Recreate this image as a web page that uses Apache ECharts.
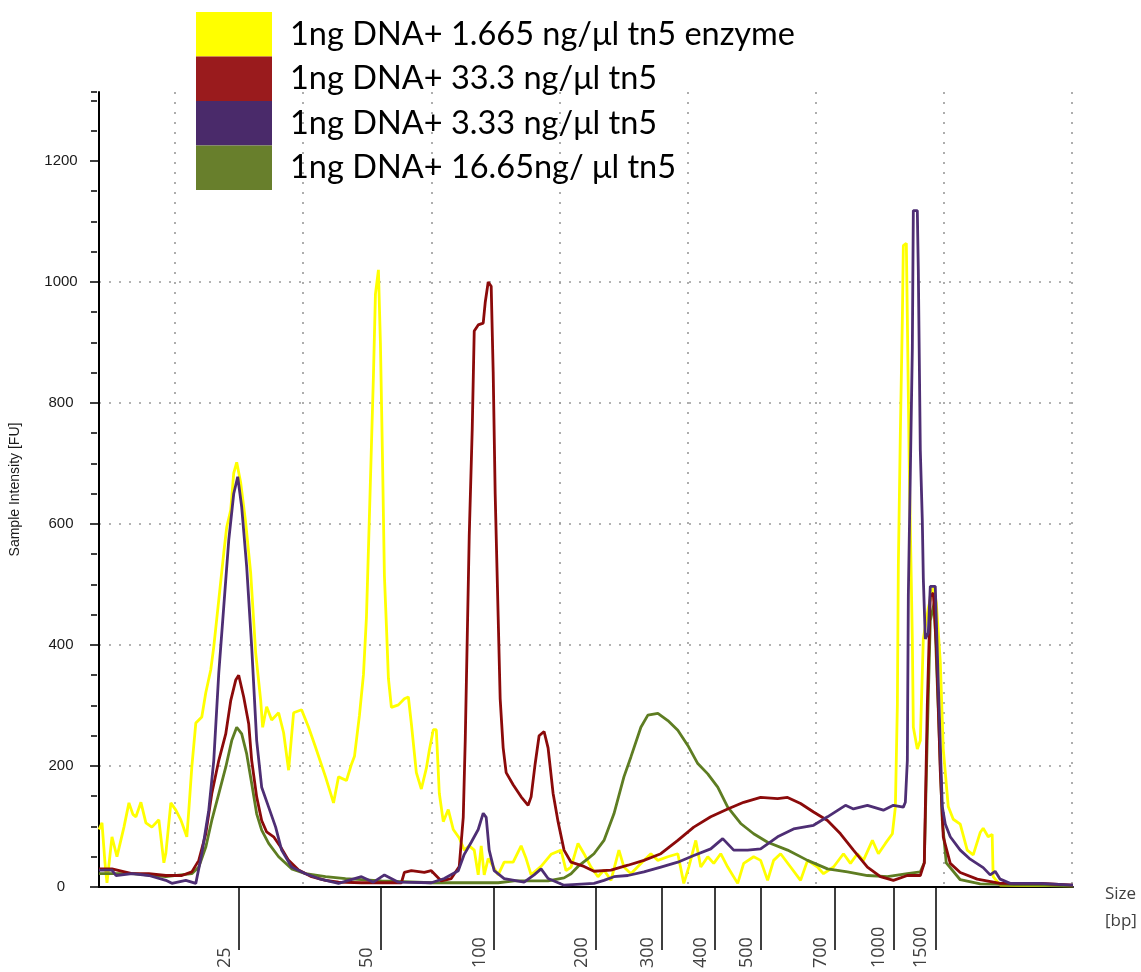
<!DOCTYPE html>
<html><head><meta charset="utf-8">
<script src="https://cdn.jsdelivr.net/npm/echarts@6/dist/echarts.min.js"></script>
<style>html,body{margin:0;padding:0;background:#fff;}#c{width:1141px;height:972px;}</style>
</head><body><div id="c"></div>
<script>
// x = migration position (arbitrary units, 0..976), y = fluorescence [FU]
const seriesNames = [
  '1ng DNA+ 1.665 ng/\u03bcl tn5 enzyme',
  '1ng DNA+ 33.3 ng/\u03bcl tn5',
  '1ng DNA+ 3.33 ng/\u03bcl tn5',
  '1ng DNA+ 16.65ng/ \u03bcl tn5'
];
const yellowData = [[0,95],[3,106],[6,40],[8,7],[13,83],[18,50],[25,99],[30,139],[34,120],[37,116],[42,140],[47,106],[53,99],[60,111],[65,40],[67,56],[72,139],[77,127],[82,111],[88,83],[90,127],[93,198],[97,271],[103,281],[107,321],[112,359],[115,397],[120,474],[125,552],[128,595],[132,623],[135,684],[138,702],[142,668],[147,602],[152,519],[157,387],[162,309],[164,264],[168,298],[173,276],[180,288],[185,255],[190,193],[195,288],[203,293],[210,264],[217,231],[227,182],[235,139],[240,182],[248,176],[253,203],[256,216],[261,284],[265,351],[268,446],[271,615],[273,730],[275,845],[277,980],[280,1020],[282,899],[284,716],[286,514],[288,432],[290,345],[293,297],[300,301],[306,311],[310,314],[313,270],[318,189],[323,162],[328,196],[331,226],[335,260],[338,260],[341,155],[345,108],[350,128],[355,95],[361,81],[366,61],[371,68],[376,61],[380,20],[383,68],[386,20],[390,47],[395,34],[400,20],[406,41],[415,41],[423,68],[428,47],[433,20],[443,34],[453,54],[463,61],[468,27],[473,33],[480,72],[486,55],[493,33],[500,17],[506,28],[513,11],[521,61],[526,33],[533,22],[543,39],[553,55],[560,44],[570,50],[580,55],[586,6],[591,33],[598,77],[603,33],[610,50],[616,39],[623,55],[630,33],[640,6],[646,39],[656,50],[663,44],[670,11],[676,44],[683,55],[693,33],[703,11],[710,44],[720,33],[726,22],[736,33],[746,55],[753,39],[760,55],[766,44],[775,77],[781,55],[788,72],[795,88],[798,132],[800,300],[801,533],[803,751],[805,940],[806,1060],[809,1064],[810,940],[812,686],[815,410],[816,264],[820,228],[823,242],[826,410],[831,461],[836,497],[839,470],[843,373],[846,228],[851,133],[856,112],[863,104],[870,61],[876,53],[883,90],[886,97],[891,83],[895,87],[896,17],[903,3],[976,2]];
const redData = [[0,30],[13,30],[33,22],[50,22],[67,19],[83,19],[93,25],[100,44],[107,88],[113,154],[120,209],[127,253],[132,308],[137,342],[140,350],[145,314],[150,270],[153,209],[158,149],[163,110],[168,91],[175,83],[182,66],[190,44],[200,28],[213,17],[227,11],[240,8],[263,7],[303,7],[306,24],[313,27],[326,24],[333,27],[343,10],[353,14],[361,34],[365,115],[367,243],[369,412],[371,581],[374,757],[376,919],[380,929],[385,932],[387,966],[390,1000],[393,993],[395,851],[397,649],[400,446],[402,311],[405,230],[408,189],[415,169],[423,149],[430,135],[433,149],[437,203],[441,250],[446,257],[450,230],[455,155],[460,108],[466,61],[473,41],[486,34],[496,26],[513,28],[530,36],[546,44],[563,55],[580,77],[596,99],[613,116],[630,129],[646,140],[663,148],[680,146],[690,148],[703,138],[716,124],[730,110],[743,88],[756,61],[770,33],[783,17],[796,11],[810,19],[823,19],[827,40],[830,300],[833,480],[836,486],[839,400],[841,300],[843,192],[846,83],[853,39],[863,24],[880,13],[903,6],[943,6],[976,3]];
const purpleData = [[0,28],[13,28],[17,19],[33,22],[50,19],[67,11],[73,6],[87,11],[97,6],[103,55],[110,127],[115,209],[120,353],[125,463],[130,573],[135,650],[139,678],[143,628],[148,529],[153,397],[158,242],[163,165],[170,132],[177,99],[183,61],[193,33],[207,22],[220,14],[240,6],[263,17],[275,8],[286,20],[300,8],[333,7],[346,14],[360,27],[366,54],[373,74],[380,95],[385,122],[388,115],[391,61],[396,27],[406,14],[426,8],[436,20],[443,30],[450,14],[466,3],[496,6],[506,11],[516,17],[530,19],[546,25],[563,33],[580,41],[596,52],[613,63],[625,80],[636,61],[650,61],[663,63],[680,83],[696,96],[716,102],[730,116],[748,135],[756,129],[770,135],[786,127],[796,135],[806,132],[808,140],[810,209],[811,482],[813,686],[815,889],[816,1118],[820,1118],[821,1020],[823,722],[825,606],[826,511],[828,410],[831,420],[833,497],[838,497],[841,337],[845,133],[848,104],[853,83],[863,61],[873,46],[886,32],[893,20],[898,26],[903,13],[913,6],[943,6],[976,3]];
const greenData = [[0,22],[33,22],[67,17],[93,22],[100,33],[107,66],[113,110],[120,154],[127,198],[133,242],[138,264],[143,253],[148,220],[153,171],[158,121],[163,94],[170,72],[180,50],[193,30],[207,22],[227,17],[247,14],[283,10],[333,7],[400,7],[416,10],[450,10],[466,15],[473,22],[480,34],[490,47],[496,55],[506,77],[516,121],[526,182],[533,215],[543,264],[550,284],[560,287],[570,275],[580,259],[590,234],[600,204],[610,187],[620,165],[630,132],[643,105],[656,88],[670,74],[690,61],[710,44],[730,30],[750,25],[770,19],[790,17],[810,22],[823,25],[827,40],[830,250],[833,440],[837,470],[839,380],[842,250],[845,110],[849,40],[863,12],[883,5],[976,2]];
// size ladder ticks (bp) and their migration positions
const sizeLabels = ['25','50','100','200','300','400','500','700','1000','1500'];
const sizePositions = [140,282,396,498,564,617,663,737,796,838];
const yTicks = [0,200,400,600,800,1000,1200];

const lineColors = ['#FFFF00','#8B0A0A','#4E2E74','#5E7D22'];
const legendColors = ['#FFFF00','#9A1B1D','#4A2A6A','#687F2C'];
const sizeMap = {};
sizePositions.forEach((p,i)=>{sizeMap[p]=sizeLabels[i];});

const dotted = {color:'#9a9a9a', width:1.6, type:[2,8]};
const chart = echarts.init(document.getElementById('c'), null, {renderer:'canvas'});
const mk = (idx, data) => ({
  name: seriesNames[idx], type:'line', data: data, xAxisIndex:0, yAxisIndex:0,
  showSymbol:false, symbol:'none', animation:false,
  lineStyle:{color:lineColors[idx], width:2.8}, itemStyle:{color:lineColors[idx]}
});
chart.setOption({
  animation:false,
  backgroundColor:'#fff',
  grid:[
    {left:97, top:92, width:976, height:795, containLabel:false},
    {left:175, top:92, width:897, height:795, containLabel:false},
    {left:97, top:92, width:976, height:795, containLabel:false}
  ],
  legend:{
    orient:'vertical', left:196, top:12, padding:0, itemGap:0,
    itemWidth:76, itemHeight:44.5, icon:'rect', selectedMode:false,
    data: seriesNames.map((n,i)=>({name:n, itemStyle:{color:legendColors[i], borderWidth:0}})),
    textStyle:{fontFamily:'Lato', fontSize:32.5, color:'#000', padding:[0,0,0,13]}
  },
  xAxis:[
    {type:'value', gridIndex:0, min:0, max:976, position:'bottom',
     axisLine:{show:true, onZero:false, lineStyle:{color:'#000', width:2}},
     axisTick:{show:false}, axisLabel:{show:false}, splitLine:{show:false}},
    {type:'value', gridIndex:0, min:0, max:976, position:'bottom', offset:22,
     axisLine:{show:false},
     axisTick:{show:true, customValues:sizePositions, length:63, inside:false, lineStyle:{color:'#000', width:1.5}},
     axisLabel:{show:true, customValues:sizePositions, rotate:90, margin:59, align:'left', verticalAlign:'bottom',
       fontFamily:'Open Sans', fontSize:18, color:'#404040', padding:[0,0,5,0], formatter:(v)=>sizeMap[v]||''},
     splitLine:{show:false},
     name:'Size\n[bp]', nameLocation:'end', nameGap:32,
     nameTextStyle:{fontFamily:'Open Sans', fontSize:17, color:'#404040', align:'left', verticalAlign:'top', lineHeight:27, padding:[-6,0,0,0]}},
    {type:'value', gridIndex:1, min:0, max:70, interval:10,
     axisLine:{show:false}, axisTick:{show:false}, axisLabel:{show:false},
     splitLine:{show:true, lineStyle:dotted}},
    {type:'value', gridIndex:2, min:0, max:976, show:false}
  ],
  yAxis:[
    {type:'value', gridIndex:0, min:0, max:1314, interval:200, position:'left',
     axisLine:{show:true, onZero:false, lineStyle:{color:'#000', width:2}},
     axisTick:{show:true, customValues:yTicks, length:9, lineStyle:{color:'#000', width:1.5}},
     axisLabel:{show:true, customValues:yTicks, align:'center', margin:38,
       fontFamily:'Liberation Sans', fontSize:15, color:'#1a1a1a', formatter:(v)=>String(v)},
     splitLine:{show:true, showMaxLine:false, showMinLine:false, lineStyle:dotted},
     name:'Sample Intensity [FU]', nameLocation:'middle', nameGap:77, nameRotate:90,
     nameTextStyle:{fontFamily:'Liberation Sans', fontSize:14, color:'#1a1a1a'}},
    {type:'value', gridIndex:1, min:0, max:1, show:false},
    {type:'value', gridIndex:2, min:0, max:1314, interval:50, position:'left', show:true,
     axisLine:{show:false},
     axisTick:{show:true, length:6, lineStyle:{color:'#000', width:1.5}},
     axisLabel:{show:false}, splitLine:{show:false}}
  ],
  series:[ mk(0, yellowData), mk(3, greenData), mk(1, redData), mk(2, purpleData) ]
});
</script></body></html>
